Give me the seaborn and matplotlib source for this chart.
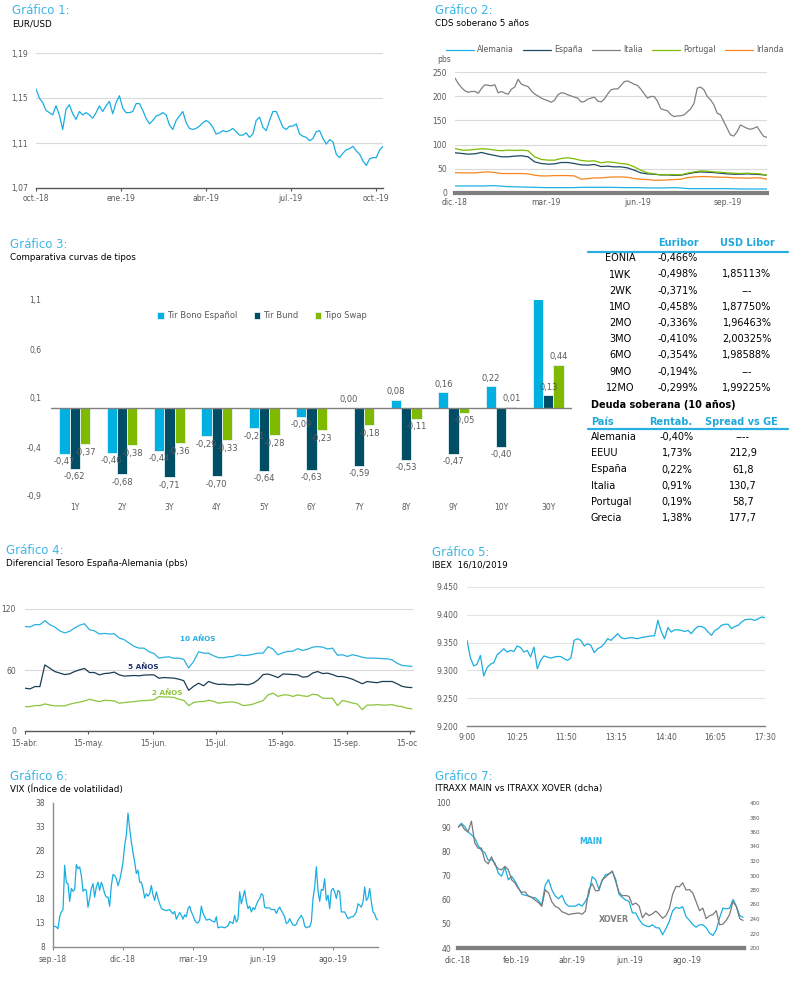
import pandas as pd
import matplotlib
matplotlib.use("Agg")
import matplotlib.pyplot as plt
import matplotlib.dates as mdates
from matplotlib.lines import Line2D
from matplotlib.transforms import Bbox, TransformedBbox
import seaborn as sns

# ---------------- Gráfico 1: EUR/USD
eurusd = [1.158, 1.150, 1.146, 1.139, 1.137, 1.135, 1.143, 1.135, 1.122, 1.140,
          1.144, 1.136, 1.131, 1.138, 1.135, 1.137, 1.135, 1.132, 1.137, 1.143,
          1.138, 1.143, 1.147, 1.136, 1.146, 1.152, 1.141, 1.137, 1.137, 1.138,
          1.145, 1.145, 1.139, 1.132, 1.127, 1.130, 1.134, 1.135, 1.137, 1.135,
          1.126, 1.122, 1.130, 1.134, 1.138, 1.128, 1.123, 1.122, 1.123, 1.125,
          1.128, 1.130, 1.128, 1.124, 1.118, 1.119, 1.121, 1.120, 1.121, 1.123,
          1.120, 1.117, 1.117, 1.119, 1.115, 1.118, 1.130, 1.133, 1.124, 1.121,
          1.130, 1.138, 1.138, 1.131, 1.124, 1.122, 1.125, 1.125, 1.127, 1.118,
          1.116, 1.115, 1.112, 1.114, 1.120, 1.121, 1.114, 1.109, 1.113, 1.111,
          1.100, 1.097, 1.101, 1.104, 1.105, 1.107, 1.103, 1.100, 1.094, 1.090,
          1.096, 1.097, 1.097, 1.104, 1.107]
eurusd_yticks = [1.07, 1.11, 1.15, 1.19]
eurusd_xlabels = ['oct.-18', 'ene.-19', 'abr.-19', 'jul.-19', 'oct.-19']

# ---------------- Gráfico 2: CDS soberano 5 años (pbs)
cds_italia = [237.5, 226, 217.5, 211, 208, 209.8, 209.8, 206, 216, 223.7,
              222.5, 221.6, 223.7, 207, 209.8, 206.4, 204, 214.7, 218.8, 235,
              225, 222, 220, 211, 204.5, 200.5, 196, 193, 190.7, 187.3,
              192, 203, 207, 206, 202.9, 200.5, 198, 196, 188, 189,
              193.9, 196, 198, 190, 188.3, 194, 204.6, 213.3, 215, 215,
              222, 230, 231.6, 228.2, 224.7, 222.3, 214.5, 205, 196, 199.4,
              199.4, 189.7, 174.2, 171.7, 170, 162, 158, 159.1, 159.6, 161.4,
              167.6, 173.8, 184.9, 216.8, 218.8, 213.3, 199.4, 192.5, 182.1, 164.8,
              161.4, 147.5, 133.7, 119.8, 117.7, 126.7, 140.6, 137.1, 133.7, 131.6,
              133.7, 137.1, 126.7, 117, 115]
cds_portugal = [92.1, 88.6, 88.6, 90, 91.4, 90.7, 88.6, 87.3, 88.6, 87.9,
                88.6, 87.3, 74.8, 69.3, 67.9, 67.9, 71.3, 72.7, 70.6, 67.2,
                65.8, 66.5, 62.3, 64.4, 63, 60.9, 59.6, 54, 47.1, 41.6,
                39.5, 37.4, 38.1, 38.1, 37.4, 40.9, 43.6, 45.7, 45, 43.6,
                42.9, 41.6, 40.9, 40.2, 40.9, 40.2, 39.5, 36]
cds_espana = [83.1, 81.7, 80.3, 81, 83.8, 80.3, 77.6, 74.8, 74.8, 76.2,
              76.9, 74.8, 64.4, 60.9, 59.6, 60.2, 63, 63, 60.9, 58.2,
              57.5, 58.9, 54.7, 55.4, 54, 54, 51.9, 47.1, 41.6, 39.5,
              38.8, 37.4, 37.4, 36.7, 36.7, 39.5, 42.2, 43.6, 42.9, 42.2,
              40.9, 39.5, 38.8, 38.8, 39.5, 38.8, 38.1, 36.7]
cds_irlanda = [42.2, 41.6, 41.6, 41.6, 42.9, 43.6, 42.2, 40.2, 40.2, 40.2,
               40.2, 39.5, 36.7, 35.3, 35.3, 36, 36, 36, 35.3, 28.4,
               29.8, 31.2, 31.2, 32.5, 33.2, 33.2, 32.5, 29.8, 28.4, 27.7,
               26.3, 26.3, 27, 27.7, 28.4, 31.9, 33.2, 33.9, 33.9, 33.2,
               32.5, 32.5, 31.2, 31.2, 30.5, 31.2, 31.2, 28.4]
cds_alemania = [14.5, 14.5, 14.5, 15.2, 13.2, 12.5, 11.8, 11.1, 11.1, 11.1,
                11.8, 11.8, 11.8, 11.1, 11.1, 10.4, 10.4, 11.1, 9, 9,
                9, 9, 8.3, 8.3, 8.3]
cds_yticks = [0, 50, 100, 150, 200, 250]
cds_xlabels = ['dic.-18', 'mar.-19', 'jun.-19', 'sep.-19']

# ---------------- Gráfico 3: curvas de tipos
plazos = ['1Y', '2Y', '3Y', '4Y', '5Y', '6Y', '7Y', '8Y', '9Y', '10Y', '30Y']
tir_bono_es = [-0.47, -0.46, -0.44, -0.29, -0.21, -0.09, 0.00, 0.08, 0.16, 0.22, 1.12]
tir_bund = [-0.62, -0.68, -0.71, -0.70, -0.64, -0.63, -0.59, -0.53, -0.47, -0.40, 0.13]
tipo_swap = [-0.37, -0.38, -0.36, -0.33, -0.28, -0.23, -0.18, -0.11, -0.05, 0.01, 0.44]
curvas_yticks = [-0.9, -0.4, 0.1, 0.6, 1.1]

# ---------------- Tablas
eur_plazos = ['EONIA', '1WK', '2WK', '1MO', '2MO', '3MO', '6MO', '9MO', '12MO']
euribor = ['-0,466%', '-0,498%', '-0,371%', '-0,458%', '-0,336%', '-0,410%',
           '-0,354%', '-0,194%', '-0,299%']
usd_libor = ['', '1,85113%', '---', '1,87750%', '1,96463%', '2,00325%',
             '1,98588%', '---', '1,99225%']
paises = ['Alemania', 'EEUU', 'España', 'Italia', 'Portugal', 'Grecia']
rentab = ['-0,40%', '1,73%', '0,22%', '0,91%', '0,19%', '1,38%']
spread_ge = ['----', '212,9', '61,8', '130,7', '58,7', '177,7']

# ---------------- Gráfico 4: diferencial España-Alemania (pbs)
dif_10a = [102.9, 102.3, 104.6, 104.6, 108.5, 104.6, 102.3, 98.5, 96.5, 98,
           101.3, 104, 105.5, 99.6, 98.5, 95.4, 96, 95.4, 95.7, 91.4,
           89.8, 86.5, 83.2, 81.5, 81.5, 78, 76.2, 71.7, 72.5, 73,
           71.5, 71.7, 70.5, 62, 68.5, 78, 76.6, 76.6, 74, 72.2,
           72, 73, 73.3, 75, 74.2, 74.5, 75.5, 76.6, 76.6, 83,
           80.5, 75, 77, 78.3, 78.5, 81, 79.2, 80.5, 82.5, 83,
           82.5, 80.6, 81.5, 74.5, 75, 73.3, 75, 74, 72.5, 71.7,
           71.7, 71.5, 71.2, 71, 70, 66.7, 64.5, 64, 63.5]
dif_5a = [42.1, 41.4, 43.7, 43.7, 65, 61.8, 58.5, 57, 55.5, 56.2,
          58.5, 60.2, 61.5, 57.5, 57.5, 55.2, 56.5, 56.9, 57.9, 55.2,
          54, 54.3, 54.6, 54.3, 55, 55.2, 55.2, 51.9, 52.6, 52.3,
          52, 51, 49.5, 40, 44, 47, 44.5, 48.7, 47, 45.8,
          46, 45.5, 45.4, 46, 45.8, 45.4, 47, 50.3, 55.5, 56,
          54.5, 52.5, 56, 55.9, 55.5, 55.2, 53, 53.5, 57, 58.5,
          56.5, 56.9, 55.5, 53.6, 53.6, 52.5, 51, 48.7, 46.5, 48.7,
          48, 47.5, 48.7, 48.7, 48.7, 46.5, 44, 43, 42.7]
dif_2a = [24, 24, 25, 25, 26.6, 25.6, 24.7, 24.7, 24.7, 26.3,
          27.5, 28.4, 29.6, 31.2, 30, 28.9, 30.2, 30, 29.6, 27.3,
          28, 28.5, 28.9, 29.6, 29.8, 30.3, 30.6, 33.9, 33.4, 33.5,
          33, 31.2, 30.2, 25, 28, 28.8, 29, 30.2, 29.2, 27.3,
          28, 28.5, 28.6, 27.3, 25, 25.5, 26.5, 28.3, 29.9, 35.5,
          37.2, 34, 35.5, 35.5, 34, 35.5, 34.5, 34, 36.2, 35.5,
          32.2, 32.2, 32.2, 25, 30, 28.9, 27.5, 26.5, 21, 25.5,
          25.5, 26, 25.5, 25.5, 26, 24.5, 24, 22.5, 21.7]
dif_yticks = [0, 60, 120]
dif_xticks = ['2019-04-15', '2019-05-15', '2019-06-15', '2019-07-15',
              '2019-08-15', '2019-09-15', '2019-10-15']
dif_xlabels = ['15-abr.', '15-may.', '15-jun.', '15-jul.', '15-ago.', '15-sep.', '15-oct.']

# ---------------- Gráfico 5: IBEX 16/10/2019
ibex = [9354, 9323, 9308, 9311, 9327, 9290, 9305, 9311, 9314, 9328,
        9333, 9339, 9333, 9336, 9334, 9344, 9341, 9333, 9336, 9324,
        9342, 9303, 9318, 9326, 9324, 9322, 9324, 9325, 9325, 9321,
        9318, 9322, 9354, 9357, 9354, 9344, 9348, 9345, 9332, 9339,
        9342, 9348, 9357, 9354, 9360, 9366, 9359, 9357, 9358, 9359,
        9358, 9357, 9359, 9360, 9361, 9362, 9362, 9390, 9370, 9357,
        9377, 9369, 9373, 9373, 9372, 9370, 9372, 9366, 9374, 9379,
        9379, 9376, 9369, 9363, 9372, 9375, 9381, 9383, 9383, 9375,
        9379, 9381, 9387, 9391, 9392, 9392, 9390, 9393, 9396, 9395]
ibex_yticks = [9200, 9250, 9300, 9350, 9400, 9450]
ibex_xlabels = ['9:00', '10:25', '11:50', '13:15', '14:40', '16:05', '17:30']

# ---------------- Gráfico 6: VIX
vix = [12.5, 12.3, 12.2, 11.8, 14.3, 15.3, 15.8, 25.0, 21.4, 21.2,
       17.5, 20.2, 19.6, 20.0, 25.2, 24.3, 24.7, 22.9, 19.6, 20.0,
       19.8, 16.3, 18.1, 20.2, 21.2, 18.4, 20.5, 21.5, 19.8, 21.5,
       20.5, 19.1, 18.4, 18.4, 16.5, 20.8, 23.1, 22.9, 22.2, 20.8,
       21.9, 23.6, 25.7, 29.2, 31.3, 35.9, 32.7, 29.9, 27.7, 25.7,
       23.3, 24.0, 21.5, 21.5, 20.2, 18.2, 19.1, 18.6, 19.1, 20.8,
       18.9, 17.7, 19.5, 18.1, 17.0, 16.1, 15.8, 15.7, 15.6, 15.7,
       15.8, 15.3, 14.9, 15.4, 13.8, 14.5, 15.2, 14.6, 13.8, 14.7,
       14.3, 16.0, 16.5, 15.3, 14.6, 13.6, 13.1, 13.0, 13.6, 16.5,
       15.1, 14.3, 13.6, 13.7, 13.8, 13.5, 13.3, 13.2, 14.3, 12.0,
       12.1, 12.2, 12.1, 12.0, 12.2, 12.4, 13.3, 13.1, 12.9, 14.6,
       13.2, 13.8, 19.5, 17.0, 18.4, 19.8, 17.5, 16.0, 16.5, 15.3,
       16.2, 15.8, 16.8, 17.6, 18.1, 19.1, 18.8, 16.3, 16.1, 16.2,
       16.1, 15.8, 15.8, 15.8, 15.0, 15.8, 16.3, 15.6, 15.0, 14.3,
       12.9, 13.1, 13.9, 13.2, 12.6, 12.5, 12.7, 13.6, 14.1, 14.6,
       13.9, 12.4, 12.0, 12.2, 12.2, 13.2, 18.1, 20.5, 24.7, 19.8,
       17.5, 20.0, 19.8, 22.2, 17.7, 18.8, 16.0, 19.8, 20.2, 19.5,
       18.1, 19.8, 19.5, 15.3, 15.3, 15.3, 14.6, 13.9, 14.1, 14.3,
       14.3, 14.7, 15.3, 17.0, 16.7, 16.3, 17.4, 20.5, 17.7, 18.2,
       20.2, 17.4, 15.3, 14.9, 13.9, 13.6]
vix_yticks = [8, 13, 18, 23, 28, 33, 38]
vix_xlabels = ['sep.-18', 'dic.-18', 'mar.-19', 'jun.-19', 'ago.-19']

# ---------------- Gráfico 7: ITRAXX MAIN vs XOVER
itraxx_main = [89.9, 91.6, 90.3, 88, 86.9, 85.4, 82.5, 80.3, 79.5, 76.3,
               76.5, 75.2, 71, 69.7, 73.4, 68.2, 69.7, 67.6, 65, 62.3,
               61.8, 61.6, 60.9, 60.8, 59.6, 57.9, 66, 68.3, 64, 61.5,
               60.4, 61.8, 58.5, 57.3, 57.3, 57.3, 58.2, 57.3, 59.3, 62,
               69.5, 68.3, 64.4, 68, 70.4, 70.6, 71.6, 68.5, 62.2, 60.9,
               59.9, 59.3, 54.5, 54.5, 51.8, 49.9, 49.2, 48.8, 49.6, 48.4,
               48.3, 45.5, 48, 51, 55.4, 56.8, 56.4, 57.1, 53, 51.4,
               49.7, 48.6, 49.6, 49.6, 48.4, 46.2, 45.2, 47.4, 52.5, 56.5,
               56.2, 56.5, 60.1, 57.3, 53.4, 52.7]
itraxx_xover = [366.4, 370.5, 363.2, 360, 375, 345, 337.5, 337.9, 320.4, 316,
                325.8, 314.9, 309.2, 307.8, 312.6, 308, 294, 289.6, 282, 276.8,
                277.4, 271.3, 270, 266, 262.5, 257.5, 280.3, 276, 263.5, 257.5,
                255.2, 250, 248.3, 246, 247.2, 247.7, 248.3, 246.5, 251, 280,
                288.7, 279, 279, 294, 297.7, 302.3, 306.2, 292, 277, 272,
                272.4, 271.3, 259.5, 262, 258, 241.5, 248.3, 244.7, 247.1, 251,
                246.6, 241, 244.5, 254, 274, 285, 284.5, 290, 280, 280.6,
                275.9, 264, 251.5, 255, 240.5, 244.5, 246, 251.5, 232, 233,
                238.2, 246.5, 264, 257, 240.5, 238]
main_yticks = [40, 50, 60, 70, 80, 90, 100]
xover_yticks = [200, 220, 240, 260, 280, 300, 320, 340, 360, 380, 400]
itraxx_xticks = ['2018-12-01', '2019-02-01', '2019-04-01', '2019-06-01', '2019-08-01']
itraxx_xlabels = ['dic.-18', 'feb.-19', 'abr.-19', 'jun.-19', 'ago.-19']

# ---------------- estilo
W, H = 804, 981
CYAN = '#1aaee0'
TXT = '#595959'
GRID = '#d9d9d9'
TITLE = '#3db5e6'

sns.set_style('white')
plt.rcParams['font.family'] = ['DejaVu Sans']

fig = plt.figure(figsize=(W / 100, H / 100), dpi=100)


def box(l, t, r, b):
    return [l / W, 1 - b / H, (r - l) / W, (b - t) / H]


def put(x, y, s, **kw):
    kw.setdefault('va', 'center')
    fig.text(x / W, 1 - y / H, s, **kw)


def rule(x0, x1, y, color, lw):
    fig.add_artist(Line2D([x0 / W, x1 / W], [1 - y / H] * 2, color=color, lw=lw))


def heading(x, y, num, sub):
    put(x, y, f'Gráfico {num}:', color=TITLE, fontsize=8.5)
    put(x, y + 13, sub, color='black', fontsize=6.3)


def coma(v, n):
    return f'{v:.{n}f}'.replace('.', ',')


def clean(ax, bcolor='#595959', blw=1.0, left=False):
    for s in ax.spines.values():
        s.set_visible(False)
    ax.spines['bottom'].set_visible(True)
    ax.spines['bottom'].set_color(bcolor)
    ax.spines['bottom'].set_linewidth(blw)
    if left:
        ax.spines['left'].set_visible(True)
        ax.spines['left'].set_color(bcolor)
        ax.spines['left'].set_linewidth(blw)
    ax.set_xlabel('')
    ax.set_ylabel('')
    ax.tick_params(labelsize=5.5, labelcolor=TXT, length=0)
    ax.set_facecolor('none')


def dnum(dates):
    return mdates.date2num(pd.to_datetime(dates))


# ---------------- Gráfico 1
heading(12, 11, 1, 'EUR/USD')
ax1 = fig.add_axes(box(36, 53, 383, 188))
d1 = pd.date_range('2018-10-01', '2019-10-08', periods=len(eurusd))
sns.lineplot(x=d1, y=eurusd, ax=ax1, color=CYAN, lw=0.9)
clean(ax1)
ax1.set_xlim(dnum(d1[0]), dnum(d1[-1]))
ax1.set_ylim(1.07, 1.19)
ax1.set_yticks(eurusd_yticks, [coma(v, 2) for v in eurusd_yticks])
ax1.set_xticks(dnum(pd.date_range('2018-10-01', periods=5, freq='91D')), eurusd_xlabels)
ax1.grid(axis='y', color=GRID, lw=0.8)
ax1.set_axisbelow(True)
ax1.tick_params(axis='x', bottom=True, length=2.5, width=0.8, color='#595959', pad=1.5)
ax1.tick_params(axis='y', pad=5.8)

# ---------------- Gráfico 2
heading(435, 11, 2, 'CDS soberano 5 años')
ax2 = fig.add_axes(box(455, 72, 767, 193))
cds = [('Alemania', cds_alemania, '#1ab4e6'), ('España', cds_espana, '#1c4a63'),
       ('Italia', cds_italia, '#808080'), ('Portugal', cds_portugal, '#7cbb00'),
       ('Irlanda', cds_irlanda, '#f7861e')]
for name, vals, col in cds:
    d = pd.date_range('2018-12-01', '2019-10-09', periods=len(vals))
    sns.lineplot(x=d, y=vals, ax=ax2, color=col, lw=0.9, label=name)
clean(ax2, bcolor='#7f7f7f', blw=3)
ax2.set_xlim(dnum('2018-12-01'), dnum('2019-10-09'))
ax2.set_ylim(0, 250)
ax2.set_yticks(cds_yticks, [str(v) for v in cds_yticks])
ax2.set_xticks(dnum(pd.date_range('2018-12-01', periods=4, freq='91D')), cds_xlabels)
ax2.grid(axis='y', color=GRID, lw=0.8)
ax2.set_axisbelow(True)
ax2.tick_params(axis='y', pad=5.8)
ax2.tick_params(axis='x', pad=3.5)
h, l = ax2.get_legend_handles_labels()
ax2.legend(h, l, loc='center', bbox_to_anchor=(615 / W, 1 - 50 / H),
           bbox_transform=fig.transFigure, ncol=5, frameon=False, fontsize=5.6,
           handlelength=3.6, columnspacing=1.2, handletextpad=0.4, labelcolor=TXT)
put(444, 60, 'pbs', fontsize=5.5, color=TXT, ha='center')

# ---------------- Gráfico 3
heading(10, 245, 3, 'Comparativa curvas de tipos')
ax3 = fig.add_axes(box(51, 300, 572, 496))
df3 = pd.DataFrame({'plazo': plazos, 'Tir Bono Español': tir_bono_es,
                    'Tir Bund': tir_bund, 'Tipo Swap': tipo_swap})
df3 = df3.melt(id_vars='plazo', var_name='serie', value_name='valor')
sns.barplot(data=df3, x='plazo', y='valor', hue='serie',
            palette=['#00b0e0', '#004d66', '#7fba00'], width=0.65,
            saturation=1, edgecolor='#e8f2f6', linewidth=0.6, ax=ax3)
for cont, vals in zip(ax3.containers, [tir_bono_es, tir_bund, tipo_swap]):
    ax3.bar_label(cont, labels=[coma(v, 2) for v in vals], padding=2.5,
                  fontsize=6, color=TXT)
clean(ax3)
ax3.spines['bottom'].set_visible(False)
ax3.axhline(0, color='#808080', lw=1)
ax3.set_ylim(-0.9, 1.1)
ax3.set_yticks(curvas_yticks, [coma(v, 1) for v in curvas_yticks])
ax3.tick_params(axis='y', pad=7)
ax3.tick_params(axis='x', pad=5.4)
h, l = ax3.get_legend_handles_labels()
ax3.legend(h, l, loc='center left', bbox_to_anchor=((150 - 51) / 521, (496 - 316) / 196),
           ncol=3, frameon=False, fontsize=6, handlelength=0.8, handleheight=0.8,
           handletextpad=0.3, columnspacing=2.0, labelcolor=TXT)

# ---------------- Tablas
HBLUE = '#1fa8dc'
put(678, 243, 'Euribor', color=HBLUE, fontsize=7, fontweight='bold', ha='center')
put(747, 243, 'USD Libor', color=HBLUE, fontsize=7, fontweight='bold', ha='center')
rule(588, 788, 252, '#29b0e0', 1.6)
for i, (p, e, u) in enumerate(zip(eur_plazos, euribor, usd_libor)):
    y = 258.3 + i * 16.2
    put(620, y, p, fontsize=7, color='black', ha='center')
    put(678, y, e, fontsize=7, color='black', ha='center')
    put(747, y, u, fontsize=7, color='black', ha='center')
put(591, 405, 'Deuda soberana (10 años)', fontsize=7, color='black', fontweight='bold')
put(591, 422, 'País', color=HBLUE, fontsize=7, fontweight='bold')
put(671, 422, 'Rentab.', color=HBLUE, fontsize=7, fontweight='bold', ha='center')
put(741, 422, 'Spread vs GE', color=HBLUE, fontsize=7, fontweight='bold', ha='center')
rule(588, 788, 429, '#29b0e0', 1.6)
for i, (p, r, s) in enumerate(zip(paises, rentab, spread_ge)):
    y = 437.3 + i * 16.1
    put(591, y, p, fontsize=7, color='black')
    put(677, y, r, fontsize=7, color='black', ha='center')
    put(743, y, s, fontsize=7, color='black', ha='center')

# ---------------- Gráfico 4
heading(6, 550, 4, 'Diferencial Tesoro España-Alemania (pbs)')
ax4 = fig.add_axes(box(25, 609, 414, 731))
for vals, col in [(dif_10a, '#29b0e0'), (dif_5a, '#1a3e52'), (dif_2a, '#8cc43c')]:
    d = pd.date_range('2019-04-15', '2019-10-16', periods=len(vals))
    sns.lineplot(x=d, y=vals, ax=ax4, color=col, lw=0.9)
clean(ax4)
ax4.set_xlim(dnum('2019-04-15'), dnum('2019-10-17'))
ax4.set_ylim(0, 120)
ax4.set_yticks(dif_yticks, [str(v) for v in dif_yticks])
ax4.set_xticks(dnum(dif_xticks), dif_xlabels)
ax4.grid(axis='y', color=GRID, lw=0.8)
ax4.set_axisbelow(True)
ax4.tick_params(axis='x', bottom=True, length=2.5, width=0.8, color='#595959', pad=3)
ax4.tick_params(axis='y', pad=6.5)
# la última etiqueta queda cortada en el borde del panel
last = ax4.get_xticklabels()[-1]
last.set_clip_box(TransformedBbox(Bbox([[0, 0], [417 / W, 1]]), fig.transFigure))
last.set_clip_on(True)
put(198, 639, '10 AÑOS', color='#29b0e0', fontsize=5.2, fontweight='bold', ha='center')
put(143, 667, '5 AÑOS', color='#1f2f6b', fontsize=5.2, fontweight='bold', ha='center')
put(167, 693, '2 AÑOS', color='#8cc43c', fontsize=5.2, fontweight='bold', ha='center')

# ---------------- Gráfico 5
heading(432, 552, 5, 'IBEX  16/10/2019')
ax5 = fig.add_axes(box(467, 587, 765, 726))
d5 = pd.date_range('2019-10-16 09:00', '2019-10-16 17:30', periods=len(ibex))
sns.lineplot(x=d5, y=ibex, ax=ax5, color=CYAN, lw=0.9)
clean(ax5, bcolor='#808080')
ax5.set_xlim(dnum(d5[0]), dnum(d5[-1]))
ax5.set_ylim(9200, 9450)
ax5.set_yticks(ibex_yticks, [f'{v:,}'.replace(',', '.') for v in ibex_yticks])
ax5.set_xticks(dnum(pd.date_range('2019-10-16 09:00', periods=7, freq='85min')), ibex_xlabels)
ax5.grid(axis='y', color='#e3e3e3', lw=0.8)
ax5.set_axisbelow(True)
ax5.tick_params(axis='y', pad=6.5)
ax5.tick_params(axis='x', pad=5.4)

# ---------------- Gráfico 6
heading(10, 776, 6, 'VIX (Índice de volatilidad)')
ax6 = fig.add_axes(box(53, 803, 378, 947))
d6 = pd.date_range('2018-09-01', '2019-10-15', periods=len(vix))
sns.lineplot(x=d6, y=vix, ax=ax6, color=CYAN, lw=0.9)
clean(ax6, bcolor='#8c8c8c', left=True)
ax6.set_xlim(dnum(d6[0]), dnum(d6[-1]))
ax6.set_ylim(8, 38)
ax6.set_yticks(vix_yticks, [str(v) for v in vix_yticks])
ax6.set_xticks(dnum(pd.date_range('2018-09-01', periods=5, freq='88D')), vix_xlabels)
ax6.tick_params(axis='x', bottom=True, length=2.5, width=0.8, color='#8c8c8c', pad=3)
ax6.tick_params(axis='y', pad=5.8)

# ---------------- Gráfico 7
heading(435, 776, 7, 'ITRAXX MAIN vs ITRAXX XOVER (dcha)')
ax7 = fig.add_axes(box(458, 803, 744, 948))
d7 = pd.date_range('2018-12-01', '2019-09-29', periods=len(itraxx_main))
sns.lineplot(x=d7, y=itraxx_main, ax=ax7, color=CYAN, lw=0.9)
ax7b = ax7.twinx()
sns.lineplot(x=d7, y=itraxx_xover, ax=ax7b, color='#7a7a7a', lw=0.9)
clean(ax7, bcolor='#808080', blw=3)
clean(ax7b, bcolor='#808080', blw=3)
ax7.set_xlim(dnum('2018-12-01'), dnum('2019-09-30'))
ax7.set_ylim(40, 100)
ax7b.set_ylim(200, 400)
ax7.set_yticks(main_yticks, [str(v) for v in main_yticks])
ax7b.set_yticks(xover_yticks, [str(v) for v in xover_yticks])
ax7.set_xticks(dnum(itraxx_xticks), itraxx_xlabels)
ax7.tick_params(axis='y', pad=5)
ax7.tick_params(axis='x', pad=6)
ax7b.tick_params(axis='y', labelsize=4, pad=4.3)
put(591, 842, 'MAIN', color='#29b5e8', fontsize=5.6, fontweight='bold', ha='center')
put(614, 919, 'XOVER', color='#7f7f7f', fontsize=5.8, fontweight='bold', ha='center')

fig.savefig('out.png', dpi=100, facecolor='white')
